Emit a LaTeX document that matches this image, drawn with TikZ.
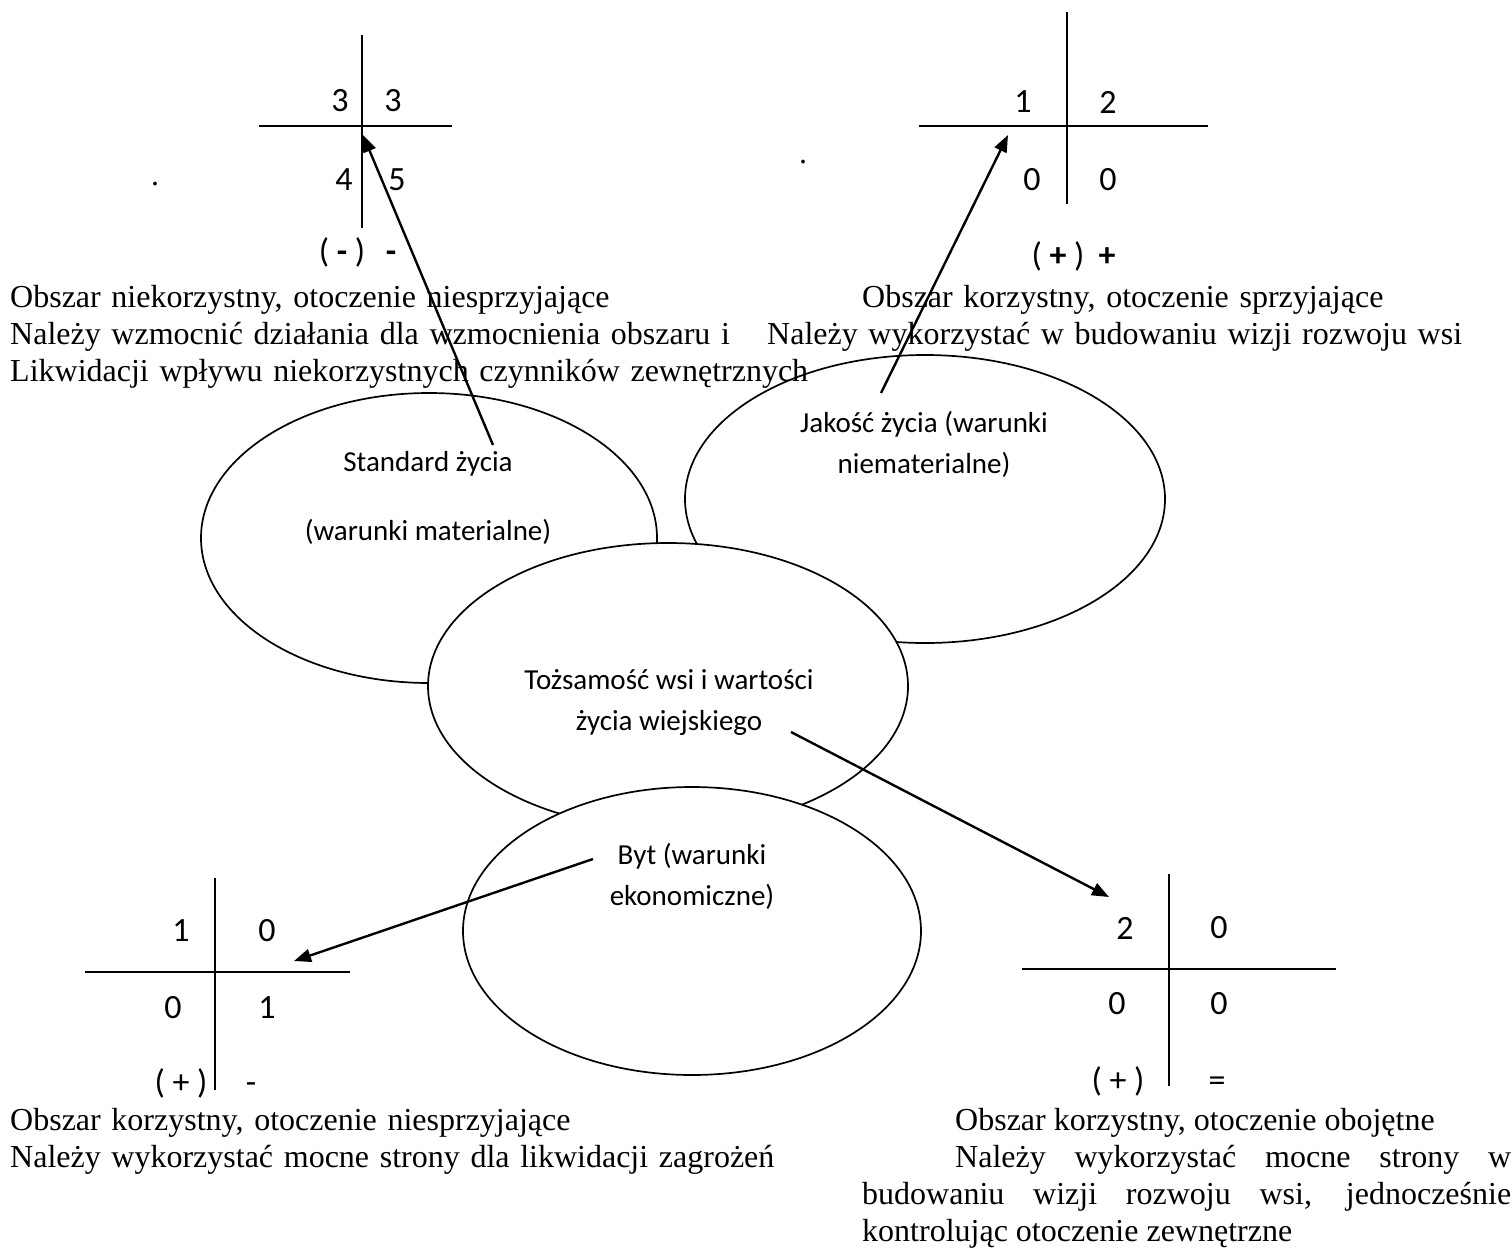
\documentclass[tikz,border=0pt]{standalone}
\usepackage{fontspec}
\setmainfont{Liberation Serif}
\newfontfamily\calibri{Carlito}
\usetikzlibrary{shapes.geometric,arrows.meta}

\begin{document}
\begin{tikzpicture}[x=1pt,y=-1pt]
	\tikzstyle{every node}+=[inner sep=0pt]
	\tikzset{
		ell/.style={draw, ellipse, fill=white, line width=1.7pt},
		ax/.style={line width=1.8pt},
		ar/.style={line width=2.4pt, -{Triangle[length=17pt,width=13pt]}},
		num/.style={font=\calibri\fontsize{34}{40}\selectfont},
		sgn/.style={font=\calibri\fontsize{34}{40}\selectfont, anchor=base},
		lbl/.style={font=\calibri\fontsize{29}{41}\selectfont, align=center, anchor=base},
		txt/.style={font=\fontsize{32}{37}\selectfont, anchor=base west, text width=820pt, align=left}
	}
	\useasboundingbox (0,0) rectangle (1512,1255);
	% ellipses, later ones lie on top
	\node[ell, minimum width=456, minimum height=290] (std) at (429,538) {};
	\node[ell, minimum width=480, minimum height=288] (jak) at (925,499) {};
	\node[ell, minimum width=480, minimum height=286] (toz) at (668,686) {};
	\node[ell, minimum width=458, minimum height=288] (byt) at (692,931) {};
	% base = last line
	\node[lbl] (stdL) at (428,540) {Standard życia\\[28pt](warunki materialne)};
	\node[lbl] (jakL) at (924,473) {Jakość życia (warunki\\niematerialne)};
	\node[lbl] (tozL) at (669,730) {Tożsamość wsi i wartości\\życia wiejskiego};
	\node[lbl] (bytL) at (692,905) {Byt (warunki\\ekonomiczne)};
	% crosses
	\draw[ax] (362,35) -- (362,228);
	\draw[ax] (259,126) -- (452,126);
	\draw[ax] (1067,12) -- (1067,204);
	\draw[ax] (919,126) -- (1208,126);
	\draw[ax] (215,878) -- (215,1090);
	\draw[ax] (85,972) -- (350,972);
	\draw[ax] (1169,874) -- (1169,1086);
	\draw[ax] (1022,969) -- (1336,969);
	% numbers in the crosses
	\node[num] (tl11) at (340,101) {3};
	\node[num] (tl12) at (393,101) {3};
	\node[num] (tl21) at (344,180) {4};
	\node[num] (tl22) at (397,180) {5};
	\node[num] (tr11) at (1023,102) {1};
	\node[num] (tr12) at (1108,102) {2};
	\node[num] (tr21) at (1032,180) {0};
	\node[num] (tr22) at (1108,180) {0};
	\node[num] (bl11) at (181,931) {1};
	\node[num] (bl12) at (267,931) {0};
	\node[num] (bl21) at (173,1008) {0};
	\node[num] (bl22) at (267,1008) {1};
	\node[num] (br11) at (1125,928) {2};
	\node[num] (br12) at (1219,928) {0};
	\node[num] (br21) at (1117,1004) {0};
	\node[num] (br22) at (1219,1004) {0};
	\node[sgn] (tlS) at (342,262) {( \textbf{-} )};
	\node[sgn] (tlR) at (391,262) {\textbf{-}};
	\node[sgn] (trS) at (1058,266) {( \textbf{+} )};
	\node[sgn] (trR) at (1107,266) {\textbf{+}};
	\node[sgn] (blS) at (181,1093) {( + )};
	\node[sgn] (blR) at (251,1093) {-};
	\node[sgn] (brS) at (1118,1091) {( + )};
	\node[sgn] (brR) at (1217,1091) {=};
	% notes
	\node[font=\fontsize{32}{37}\selectfont] (dotA) at (155,184) {.};
	\node[font=\fontsize{32}{37}\selectfont] (dotB) at (803,162) {.};
	\node[txt] (tlT) at (10,307) {Obszar niekorzystny, otoczenie niesprzyjające\\Należy wzmocnić działania dla wzmocnienia obszaru i\\Likwidacji wpływu niekorzystnych czynników zewnętrznych};
	\node[txt] (trT) at (767,307) {\hspace*{95pt}Obszar korzystny, otoczenie sprzyjające\\Należy wykorzystać w budowaniu wizji rozwoju wsi};
	\node[txt] (blT) at (10,1130) {Obszar korzystny, otoczenie niesprzyjające\\Należy wykorzystać mocne strony dla likwidacji zagrożeń};
	\node[txt, text width=649pt, align=justify] (brT) at (862,1130) {\hspace*{93pt}Obszar korzystny, otoczenie obojętne\\\hspace*{93pt}Należy wykorzystać mocne strony w\linebreak budowaniu wizji rozwoju wsi, jednocześnie\linebreak kontrolując otoczenie zewnętrzne};
	% arrows
	\coordinate (stdA) at (493,445);
	\coordinate (tlC) at (363,135);
	\coordinate (jakA) at (881,393);
	\coordinate (trC) at (1008,135);
	\coordinate (tozA) at (791,732);
	\coordinate (brC) at (1109,897);
	\coordinate (bytA) at (593,859);
	\coordinate (blC) at (294,961);
	\draw[ar] (stdA) -- (tlC);
	\draw[ar] (jakA) -- (trC);
	\draw[ar] (tozA) -- (brC);
	\draw[ar] (bytA) -- (blC);
\end{tikzpicture}
\end{document}
